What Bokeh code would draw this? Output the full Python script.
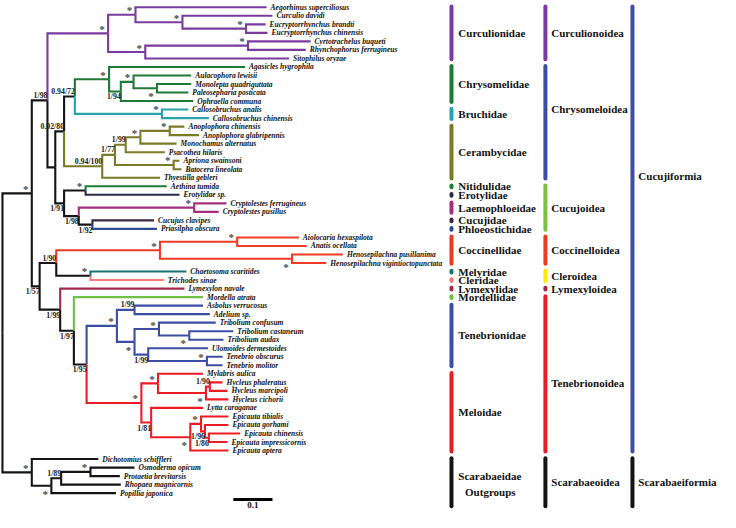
from bokeh.plotting import figure
from bokeh.models import ColumnDataSource, Range1d
from bokeh.core.properties import value
from bokeh.embed import file_html
from bokeh.resources import INLINE

# ------------------------------------------------------------------ data
# Clades in Newick notation: branch lengths in substitutions/site, internal
# labels are the support values (BI posterior / ML bootstrap, "*" = 1/100).
CURCULIONIDAE = ("((Aegorhinus_superciliosus:0.335,(Curculio_davidi:0.23,"
                 "(Eucryptorrhynchus_brandti:0.05,Eucryptorrhynchus_chinensis:0.055)*:0.1625)*:0.12)*:0.07,"
                 "((Cyrtotrachelus_buqueti:0.16,Rhynchophorus_ferrugineus:0.1475)*:0.2625,"
                 "Sitophilus_oryzae:0.3675)*:0.095)*:0.155")
CHRYSOMELIDAE = ("(Agasicles_hygrophila:0.3475,((Aulacophora_lewisii:0.1475,"
                 "(Monolepta_quadriguttata:0.0875,Paleosepharia_posticata:0.08)*:0.06)*:0.0325,"
                 "Ophraella_communa:0.185)1/94:0.03)*:0.0875")
BRUCHIDAE = "(Callosobruchus_analis:0.0675,Callosobruchus_chinensis:0.12)*:0.2225"
CERAMBYCIDAE = ("(((((Anoplophora_chinensis:0.0375,Anoplophora_glabripennis:0.075)*:0.075,"
                "Monochamus_alternatus:0.0925)*:0.0375,Psacothea_hilaris:0.1)1/99:0.0275,"
                "(Apriona_swainsoni:0.015,Batocera_lineolata:0.02)*:0.15)1/77:0.0325,"
                "Thyestilla_gebleri:0.1475)0.94/100:0.0975")
CUCUJOIDEA = ("((Aethina_tumida:0.2075,Erotylidae_sp.:0.24)*:0.055,"
              "((Cryptolestes_ferrugineus:0.0825,Cryptolestes_pusillus:0.0625)*:0.295,"
              "(Cucujus_clavipes:0.1575,Priasilpha_obscura:0.165)1/92:0.035)1/98:0.0375)1/91:0.0225")
COCCINELLIDAE = ("((Aiolocaria_hexaspilota:0.1575,Anatis_ocellata:0.1775)*:0.1975,"
                 "(Henosepilachna_pusillanima:0.13,Henosepilachna_vigintioctopunctata:0.0875)*:0.3375)*:0.265")
CLEROIDEA = "(Chaetosoma_scaritides:0.245,Trichodes_sinae:0.1875)*:0.0875"
TENEBRIONIDAE = ("((Asbolus_verrucosus:0.175,Adelium_sp.:0.1925)1/99:0.045,"
                 "((Tribolium_confusum:0.145,(Tribolium_castaneum:0.1125,Tribolium_audax:0.0875)*:0.0775)*:0.0625,"
                 "(Ulomoides_dermestoides:0.1525,(Tenebrio_obscurus:0.04,Tenebrio_molitor:0.04)*:0.15)1/99:0.035)*:0.045)*:0.0775")
MELOIDAE = ("((Mylabris_aulica:0.115,((Hycleus_phaleratus:0.0325,Hycleus_marcipoli:0.045)1/90:0.01,"
            "Hycleus_cichorii:0.0575)*:0.1225)*:0.0425,(Lytta_caraganae:0.1325,"
            "((Epicauta_tibialis:0.07,(Epicauta_gorhami:0.06,(Epicauta_chinensis:0.08,"
            "Epicauta_impressicornis:0.0475)1/86:0.01)1/96:0.01)*:0.0275,Epicauta_aptera:0.0975)*:0.1)1/81:0.025)*:0.14")
SCARABAEIDAE = ("(Dichotomius_schiffleri:0.17,(((Osmoderma_opicum:0.1125,Protaetia_brevitarsis:0.075)*:0.075,"
                "Rhopaea_magnicornis:0.1525)1/89:0.025,Popillia_japonica:0.165)*:0.05)*:0.075")

CHRYSOMELOIDEA = "((" + CHRYSOMELIDAE + "," + BRUCHIDAE + ")0.94/72:0.0275," + CERAMBYCIDAE + ")0.92/80:0.0225"
UPPER = "(" + CURCULIONIDAE + ",(" + CHRYSOMELOIDEA + "," + CUCUJOIDEA + "):0.02)1/98:0.04"
TENEBRIONOIDEA = ("(Lymexylon_navale:0.3175,(Mordella_atrata:0.33,(" + TENEBRIONIDAE + "," + MELOIDAE +
                  ")1/95:0.0325)1/97:0.035)1/99:0.0525")
LOWER = "((" + COCCINELLIDAE + "," + CLEROIDEA + ")1/90:0.0425," + TENEBRIONOIDEA + ")1/57:0.02"
NEWICK = "((" + UPPER + "," + LOWER + ")*:0.075," + SCARABAEIDAE + ");"

FAMILY_NAMES = ["Curculionidae", "Chrysomelidae", "Bruchidae", "Cerambycidae", "Nitidulidae",
                "Erotylidae", "Laemophloeidae", "Cucujidae", "Phloeostichidae", "Coccinellidae",
                "Melyridae", "Cleridae", "Lymexylidae", "Mordellidae", "Tenebrionidae", "Meloidae",
                "Scarabaeidae\nOutgroups"]
FAMILY_FIRST = [0, 7, 12, 14, 21, 22, 23, 25, 26, 27, 31, 32, 33, 34, 35, 43, 53]
FAMILY_LAST = [6, 11, 13, 20, 21, 22, 24, 25, 26, 30, 31, 32, 33, 34, 42, 52, 57]

SUPERFAMILY_NAMES = ["Curculionoidea", "Chrysomeloidea", "Cucujoidea", "Coccinelloidea",
                     "Cleroidea", "Lymexyloidea", "Tenebrionoidea", "Scarabaeoidea"]
SUPERFAMILY_FIRST = [0, 7, 21, 27, 31, 33, 34, 53]
SUPERFAMILY_LAST = [6, 20, 26, 30, 32, 33, 52, 57]

SERIES_NAMES = ["Cucujiformia", "Scarabaeiformia"]
SERIES_FIRST = [0, 53]
SERIES_LAST = [52, 57]

SCALE_BAR_LENGTH = 0.1

# ------------------------------------------------------------------ styles
PURPLE, BLUE, RED, ORANGE_RED = "#7a3b9e", "#3d4da4", "#ec1c24", "#ee3b24"
CRIMSON, BLACK = "#a12a4c", "#141414"
CLADE_COLORS = {
    "Aegorhinus_superciliosus|Sitophilus_oryzae": PURPLE,
    "Agasicles_hygrophila|Ophraella_communa": "#1f7a37",
    "Callosobruchus_analis|Callosobruchus_chinensis": "#27a3ad",
    "Anoplophora_chinensis|Thyestilla_gebleri": "#7b7a25",
    "Aethina_tumida": "#1f7d3c",
    "Erotylidae_sp.": "#2a2a4d",
    "Cryptolestes_ferrugineus|Cryptolestes_pusillus": "#a42f7e",
    "Cucujus_clavipes": "#3c2646",
    "Priasilpha_obscura": "#2c4a8c",
    "Aiolocaria_hexaspilota|Henosepilachna_vigintioctopunctata": ORANGE_RED,
    "Chaetosoma_scaritides": "#16766f",
    "Trichodes_sinae": "#f27a7a",
    "Lymexylon_navale": CRIMSON,
    "Mordella_atrata": "#72c043",
    "Asbolus_verrucosus|Tenebrio_molitor": BLUE,
    "Mylabris_aulica|Epicauta_aptera": RED,
}
SUPPORT_BELOW = {
    "Aulacophora_lewisii|Ophraella_communa", "Monolepta_quadriguttata|Paleosepharia_posticata",
    "Aethina_tumida|Priasilpha_obscura", "Cryptolestes_ferrugineus|Priasilpha_obscura",
    "Cucujus_clavipes|Priasilpha_obscura",
    "Henosepilachna_pusillanima|Henosepilachna_vigintioctopunctata",
    "Aiolocaria_hexaspilota|Epicauta_aptera", "Lymexylon_navale|Epicauta_aptera",
    "Mordella_atrata|Epicauta_aptera", "Asbolus_verrucosus|Epicauta_aptera",
    "Tribolium_confusum|Tenebrio_molitor", "Tribolium_castaneum|Tribolium_audax",
    "Ulomoides_dermestoides|Tenebrio_molitor", "Hycleus_phaleratus|Hycleus_cichorii",
    "Lytta_caraganae|Epicauta_aptera", "Epicauta_tibialis|Epicauta_aptera",
    "Epicauta_gorhami|Epicauta_impressicornis", "Epicauta_chinensis|Epicauta_impressicornis",
    "Osmoderma_opicum|Popillia_japonica",
}
FAMILY_COLORS = [PURPLE, "#1f7a37", "#27a3ad", "#7b7a25", "#1f7d3c", "#2a2a4d", "#a42f7e",
                 "#3c2646", "#2c4a8c", ORANGE_RED, "#16766f", "#f27a7a", CRIMSON, "#72c043",
                 BLUE, RED, BLACK]
SUPERFAMILY_COLORS = [PURPLE, BLUE, "#7dbf3f", ORANGE_RED, "#fde800", CRIMSON, RED, BLACK]
SERIES_COLORS = [BLUE, BLACK]
LABEL_ROW_OVERRIDE = {"Chrysomeloidea": 11.95, "Tenebrionoidea": 44.1, "Cucujiformia": 19.8}

SERIF = value("Liberation Serif")


# ------------------------------------------------------------------ tree
def parse_newick(s):
    pos = 0

    def node():
        nonlocal pos
        children = []
        if s[pos] == "(":
            pos += 1
            children.append(node())
            while s[pos] == ",":
                pos += 1
                children.append(node())
            pos += 1  # ')'
        start = pos
        while s[pos] not in ":,);":
            pos += 1
        label = s[start:pos]
        length = 0.0
        if s[pos] == ":":
            pos += 1
            start = pos
            while s[pos] not in ",);":
                pos += 1
            length = float(s[start:pos])
        return {"label": label, "length": length, "children": children}

    return node()


tree = parse_newick(NEWICK)
tips = []
nodes = []


def layout(n, x_parent):
    n["x"] = x_parent + n["length"]
    nodes.append(n)
    if not n["children"]:
        n["y"] = float(len(tips))
        tips.append(n)
        n["first"] = n["last"] = n["label"]
    else:
        for c in n["children"]:
            layout(c, n["x"])
        n["y"] = (n["children"][0]["y"] + n["children"][-1]["y"]) / 2.0
        n["first"] = n["children"][0]["first"]
        n["last"] = n["children"][-1]["last"]


def paint(n, inherited):
    key = n["first"] if n["first"] == n["last"] else n["first"] + "|" + n["last"]
    n["key"] = key
    n["color"] = CLADE_COLORS.get(key, inherited)
    for c in n["children"]:
        paint(c, n["color"])


layout(tree, 0.0)
paint(tree, BLACK)

br_xs, br_ys, br_col = [], [], []
for n in nodes:
    for c in n["children"]:
        br_xs.append([n["x"], n["x"], c["x"]])
        br_ys.append([n["y"], c["y"], c["y"]])
        br_col.append(c["color"])

# ------------------------------------------------------------------ figure
p = figure(width=720, height=512, output_backend="svg", toolbar_location=None,
           x_range=Range1d(-0.005, 1.835), y_range=Range1d(59.27, -0.796),
           x_axis_location=None, y_axis_location=None, min_border=0)
p.grid.visible = False
p.outline_line_color = None
p.background_fill_color = "white"

p.multi_line(xs="xs", ys="ys", line_color="c", line_width=2.1, line_join="miter",
             source=ColumnDataSource(dict(xs=br_xs, ys=br_ys, c=br_col)))

# tip names
p.text(x=[t["x"] for t in tips], y=[t["y"] for t in tips],
       text=[t["label"].replace("_", " ") for t in tips],
       text_font=SERIF, text_font_style="bold italic", text_font_size="7.5px",
       text_baseline="middle", text_align="left", x_offset=4, text_color="#111111")

# support values
for below in (False, True):
    num = [n for n in nodes if n["children"] and n["label"] and n["label"] != "*"
           and (n["key"] in SUPPORT_BELOW) == below]
    star = [n for n in nodes if n["children"] and n["label"] == "*"
            and (n["key"] in SUPPORT_BELOW) == below]
    p.text(x=[n["x"] for n in num], y=[n["y"] for n in num], text=[n["label"] for n in num],
           text_font=SERIF, text_font_style="bold", text_font_size="7.8px",
           text_align="right", text_baseline="top" if below else "bottom",
           x_offset=0, y_offset=1 if below else -0.5, text_color="#222222")
    p.text(x=[n["x"] for n in star], y=[n["y"] for n in star], text=["*"] * len(star),
           text_font=SERIF, text_font_style="bold", text_font_size="11px",
           text_align="center", text_baseline="middle",
           x_offset=-6, y_offset=8 if below else -4.5, text_color="#4a4a4a")

# classification bars
BAR_PAD, LAST_EXTRA = 0.1, 1.45
tiers = [
    (FAMILY_NAMES, FAMILY_FIRST, FAMILY_LAST, FAMILY_COLORS, 1.1475, 1.165),
    (SUPERFAMILY_NAMES, SUPERFAMILY_FIRST, SUPERFAMILY_LAST, SUPERFAMILY_COLORS, 1.3875, 1.4025),
    (SERIES_NAMES, SERIES_FIRST, SERIES_LAST, SERIES_COLORS, 1.61, 1.625),
]
for names, first, last, cols, bar_x, txt_x in tiers:
    y0 = [f - BAR_PAD for f in first]
    y1 = [l + BAR_PAD + (LAST_EXTRA if l == len(tips) - 1 else 0) for l in last]
    p.segment(x0=[bar_x] * len(names), x1=[bar_x] * len(names), y0=y0, y1=y1,
              line_color=cols, line_width=4, line_cap="round")
    single_t, single_y = [], []
    for nm, a, b in zip(names, y0, y1):
        row = LABEL_ROW_OVERRIDE.get(nm, (a + b) / 2)
        if "\n" in nm:
            l1, l2 = nm.split("\n")
            p.text(x=[txt_x], y=[row], text=[l1], text_font=SERIF, text_font_style="bold",
                   text_font_size="11px", text_baseline="middle", y_offset=-6, text_color="#111111")
            p.text(x=[txt_x], y=[row], text=[l2], text_font=SERIF, text_font_style="bold",
                   text_font_size="11px", text_baseline="middle", text_align="center",
                   x_offset=32, y_offset=10, text_color="#111111")
        else:
            single_t.append(nm)
            single_y.append(row)
    p.text(x=[txt_x] * len(single_t), y=single_y, text=single_t, text_font=SERIF,
           text_font_style="bold", text_font_size="11px", text_baseline="middle",
           text_color="#111111")

# scale bar
sb_x, sb_row = 0.59, 57.75
p.segment(x0=[sb_x], x1=[sb_x + SCALE_BAR_LENGTH], y0=[sb_row], y1=[sb_row],
          line_color="black", line_width=3)
p.text(x=[sb_x + SCALE_BAR_LENGTH / 2], y=[sb_row], text=[str(SCALE_BAR_LENGTH)],
       text_font=SERIF, text_font_style="bold", text_font_size="9px",
       text_align="center", text_baseline="top", y_offset=2, text_color="#111111")

open("out.html", "w").write(file_html(p, INLINE))
